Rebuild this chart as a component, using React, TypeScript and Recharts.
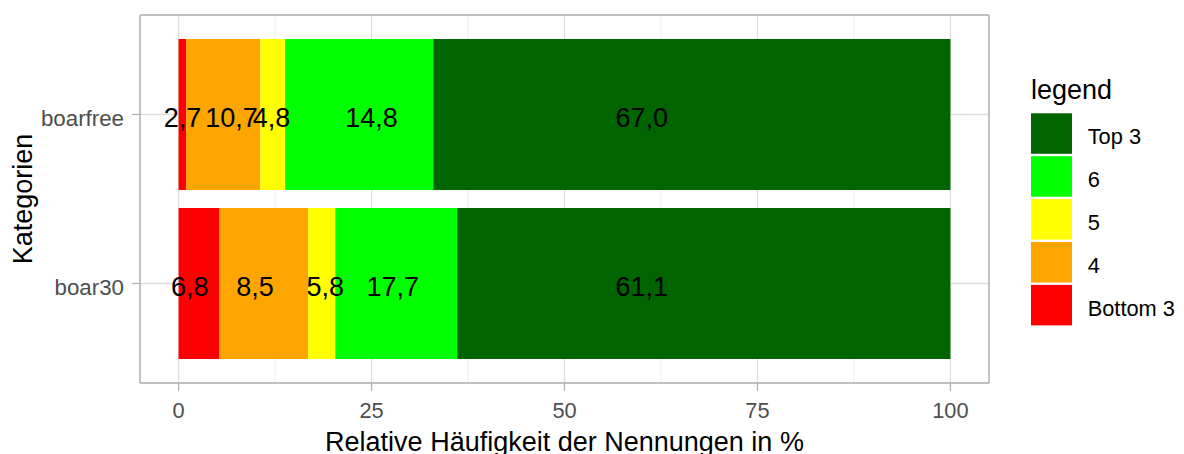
import { BarChart, Bar, XAxis, YAxis, CartesianGrid, ReferenceDot, Legend } from "recharts";

const FONT = '"Liberation Sans", Arial, Helvetica, sans-serif';

const categories = ["boarfree", "boar30"];
const seriesNames = ["Bottom 3", "4", "5", "6", "Top 3"];
const seriesColors = ["#ff0000", "#ffa500", "#ffff00", "#00ff00", "#006400"];
const seriesKeys = ["bottom3", "r4", "r5", "r6", "top3"];

// segment lengths in %, per category
const bottom3 = [1.0, 5.3];
const rating4 = [9.6, 11.5];
const rating5 = [3.2, 3.5];
const rating6 = [19.2, 15.8];
const top3 = [67.0, 63.9];

// printed labels and where they sit on the x scale
const labelValues = [
  [2.7, 10.7, 4.8, 14.8, 67.0],
  [6.8, 8.5, 5.8, 17.7, 61.1],
];
const labelAt = [
  [0.5, 6.85, 12.05, 25.0, 60.0],
  [1.45, 9.9, 19.0, 27.75, 60.0],
];

const xTicks = [0, 25, 50, 75, 100];
const xMinor = [12.5, 37.5, 62.5, 87.5];

const columns = [bottom3, rating4, rating5, rating6, top3];
const data = categories.map((cat, i) => {
  const row: Record<string, string | number> = { cat };
  seriesKeys.forEach((k, j) => (row[k] = columns[j][i]));
  return row;
});

const fmt = (v: number) => v.toFixed(1).replace(".", ",");

function DotText({ viewBox, txt }: any) {
  const vb = viewBox || { x: 0, y: 0, width: 0, height: 0 };
  return (
    <text x={vb.x + vb.width / 2} y={vb.y + vb.height / 2 + 3.5} textAnchor="middle" dominantBaseline="central" fontSize={27} fill="#000" fontFamily={FONT}>
      {txt}
    </text>
  );
}

function YTick({ x, y, payload }: any) {
  return (
    <text x={x} y={y + 3.7} textAnchor="end" dominantBaseline="central" fontSize={22.3} fill="#4d4d4d" fontFamily={FONT}>
      {payload.value}
    </text>
  );
}

function XTick({ x, y, payload }: any) {
  return (
    <text x={x} y={y + 19.5} textAnchor="middle" dominantBaseline="central" fontSize={21.8} fill="#4d4d4d" fontFamily={FONT}>
      {payload.value}
    </text>
  );
}

function XTitle({ viewBox }: any) {
  const vb = viewBox || { x: 140, y: 383, width: 849, height: 71 };
  return (
    <text x={vb.x + vb.width / 2} y={vb.y + vb.height - 3} textAnchor="middle" fontSize={27} fill="#000" fontFamily={FONT}>
      Relative Häufigkeit der Nennungen in %
    </text>
  );
}

function YTitle({ viewBox }: any) {
  const vb = viewBox || { x: 0, y: 15, width: 140, height: 368 };
  const x = vb.x + 31.5;
  const y = vb.y + vb.height / 2;
  return (
    <text x={x} y={y} transform={`rotate(-90, ${x}, ${y})`} textAnchor="middle" fontSize={27} fill="#000" fontFamily={FONT}>
      Kategorien
    </text>
  );
}

function LegendBox({ payload }: any) {
  const list = payload || [];
  // top of the legend shows the last stacked series
  const items = [...seriesNames]
    .reverse()
    .map((n) => list.find((p: any) => p.value === n))
    .filter(Boolean);
  return (
    <svg width={164} height={270} style={{ display: "block" }}>
      <text x={11} y={28.5} fontSize={27} fill="#000" fontFamily={FONT}>
        legend
      </text>
      {items.map((it: any, i: number) => (
        <g key={it.value}>
          <rect x={11} y={43.3 + i * 42.9} width={41} height={40.5} fill={it.color} />
          <text x={67.7} y={66.5 + i * 42.9} dominantBaseline="central" fontSize={21.8} fill="#000" fontFamily={FONT}>
            {it.value}
          </text>
        </g>
      ))}
    </svg>
  );
}

const border = { stroke: "#b3b3b3", strokeWidth: 1.6 };

export default function App() {
  return (
    <div style={{ position: "absolute", left: 0, top: 0, fontFamily: FONT, background: "#fff" }}>
      <BarChart width={1184} height={454} data={data} layout="vertical" barSize={151} margin={{ top: 14, right: 194, bottom: 0, left: 0 }}>
        <CartesianGrid stroke="#e6e6e6" strokeWidth={0.7} horizontal={false} verticalValues={xMinor} />
        <CartesianGrid stroke="#dedede" strokeWidth={1.3} verticalValues={xTicks} />
        <XAxis
          type="number"
          domain={[-5, 105]}
          ticks={xTicks}
          allowDataOverflow
          height={71}
          axisLine={border}
          tickLine={{ stroke: "#b3b3b3", strokeWidth: 1.3 }}
          tickSize={8}
          tickMargin={0}
          tick={<XTick />}
          label={<XTitle />}
        />
        <XAxis xAxisId="top" orientation="top" type="number" domain={[0, 1]} height={1} axisLine={border} tick={false} tickLine={false} />
        <YAxis
          type="category"
          dataKey="cat"
          width={140}
          padding={{ top: 15, bottom: 15 }}
          axisLine={border}
          tickLine={{ stroke: "#b3b3b3", strokeWidth: 1.3 }}
          tickSize={8}
          tickMargin={8}
          tick={<YTick />}
          label={<YTitle />}
        />
        <YAxis yAxisId="right" orientation="right" type="number" domain={[0, 1]} width={1} axisLine={border} tick={false} tickLine={false} />
        {seriesKeys.map((k, j) => (
          <Bar key={k} dataKey={k} name={seriesNames[j]} stackId="s" fill={seriesColors[j]} isAnimationActive={false} />
        ))}
        {categories.map((cat, i) =>
          labelValues[i].map((v, j) => (
            <ReferenceDot key={`${cat}-${j}`} x={labelAt[i][j]} y={cat} r={0} fill="none" stroke="none" label={<DotText txt={fmt(v)} />} />
          ))
        )}
        <Legend layout="vertical" align="center" verticalAlign="middle" wrapperStyle={{ left: 1020, top: 70, width: 164, height: 270 }} content={<LegendBox />} />
      </BarChart>
    </div>
  );
}
